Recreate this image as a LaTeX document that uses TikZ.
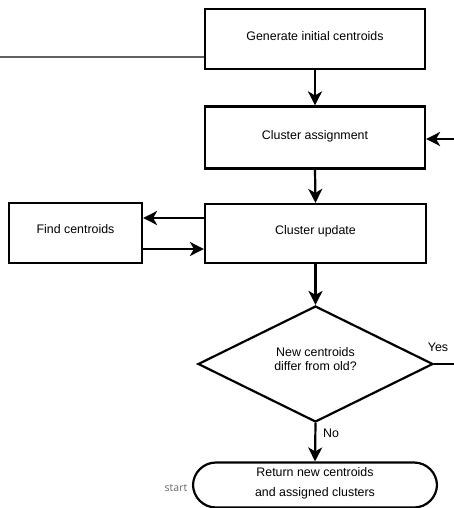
\documentclass[tikz,border=0pt]{standalone}
\usepackage{fontspec}
\setmainfont{Liberation Sans}
\newfontfamily\notefont{Open Sans}
\usetikzlibrary{shapes.geometric,arrows.meta}
\begin{document}
\begin{tikzpicture}[x=1pt,y=-1pt,
  every node/.style={font=\fontsize{12.4}{14}\selectfont},
  procbox/.style={draw=black,line width=2.2pt,rectangle,inner sep=0pt},
  decide/.style={draw=black,line width=2.2pt,diamond,inner sep=0pt},
  terminal/.style={draw=black,line width=2.2pt,rectangle,rounded corners=23pt,inner sep=0pt},
  flow/.style={line width=2.2pt,-{Stealth[length=14pt,width=14pt,inset=4pt]}},
  plain/.style={line width=2.2pt},
  lbl/.style={inner sep=0pt}]
\useasboundingbox (0,0) rectangle (454,508);

% process boxes
\node[procbox,minimum width=220pt,minimum height=60pt] (gen) at (315,39) {};
\node[lbl] at (315,36) {Generate initial centroids};
\node[procbox,minimum width=220pt,minimum height=62pt] (assign) at (315,137.5) {};
\node[lbl] at (315,136) {Cluster assignment};
\node[procbox,minimum width=221pt,minimum height=59pt] (update) at (315.5,233.5) {};
\node[lbl] at (315.5,231) {Cluster update};
\node[procbox,minimum width=133pt,minimum height=60pt] (find) at (75.5,233) {};
\node[lbl] at (75.5,229) {Find centroids};

% decision
\node[decide,minimum width=235pt,minimum height=116pt] (test) at (315.5,364) {};
\node[lbl,align=center,font=\fontsize{12.4}{13.5}\selectfont] at (315.5,359) {New centroids\\differ from old?};

% terminal
\node[terminal,minimum width=244pt,minimum height=45pt] (ret) at (315,485) {};
\node[lbl,align=center,font=\fontsize{12.4}{20}\selectfont] at (315,483) {Return new centroids\\and assigned clusters};
\node[lbl,text=black!60,font=\notefont\fontsize{10.5}{12}\selectfont] (st) at (176,488) {start};

% connectors
\coordinate (inlet) at (0,57);
\draw[line width=2.8pt,draw=black!62] (inlet) -- (inlet -| gen.west);
\draw[flow] (gen.south) -- (assign.north);
\coordinate (back) at (454,139);
\draw[flow] (back) -- (back -| assign.east);
\draw[flow] (assign.south) -- (update.north);
\draw[flow] (update.west |- 0,218) -- (find.east |- 0,218);
\draw[flow] (find.east |- 0,249) -- (update.west |- 0,249);
\draw[flow] (update.south) -- (test.north);
\coordinate (yesout) at (454,364);
\draw[plain] (test.east) -- (yesout);
\node[lbl] at (438,347) {Yes};
\draw[flow] (test.south) -- (ret.north);
\node[lbl] at (331,433) {No};
\end{tikzpicture}
\end{document}
